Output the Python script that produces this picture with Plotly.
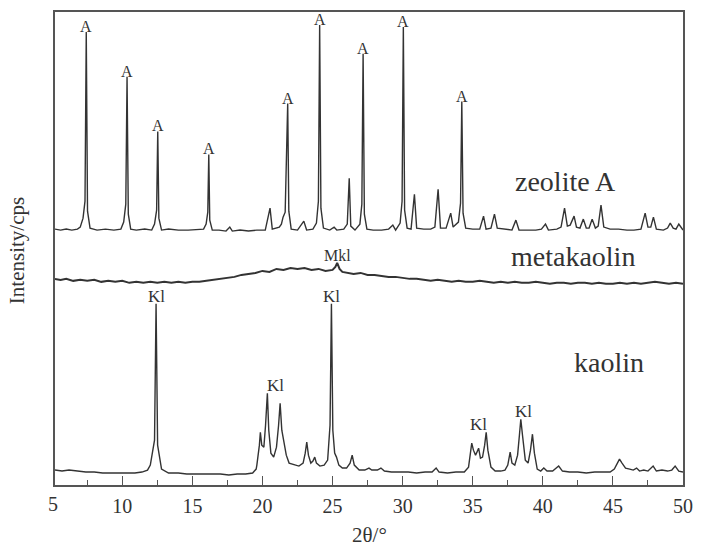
import plotly.graph_objects as go

# --- XRD patterns (2-theta in degrees, intensity in arbitrary counts, traces stacked) ---
zeolite_x = [5.2, 5.6, 6.0, 6.4, 6.8, 7.0,
             7.2, 7.34, 7.43, 7.52, 7.7,
             8.2, 8.8, 9.4, 9.9,
             10.1, 10.25, 10.34, 10.43, 10.6,
             11.0, 11.6, 12.1,
             12.3, 12.45, 12.53, 12.61, 12.8,
             13.3, 14.0, 14.7, 15.4, 15.8,
             15.98, 16.1, 16.17, 16.24, 16.42,
             16.9, 17.4, 17.67, 17.85, 18.4, 19.0, 19.6, 20.2, 20.54, 20.7,
             21.2, 21.35, 21.47, 21.62, 21.80, 21.88, 22.05,
             22.5, 22.95, 23.15, 23.6,
             23.85, 23.99, 24.08, 24.17, 24.35,
             24.8, 25.11, 25.3, 25.8,
             26.05, 26.19, 26.3, 26.6,
             26.95, 27.09, 27.18, 27.27, 27.45,
             27.9, 28.5, 29.0, 29.3, 29.5,
             29.82, 29.96, 30.05, 30.14, 30.32,
             30.6, 30.84, 31.0, 31.5, 32.0, 32.3, 32.53, 32.7,
             33.1, 33.43, 33.6,
             33.98, 34.13, 34.22, 34.31, 34.5,
             35.0, 35.5, 35.77, 35.95, 36.3, 36.55, 36.75, 37.3, 37.8, 38.08, 38.3,
             38.9, 39.5, 39.9, 40.19, 40.4, 41.0, 41.3, 41.55, 41.75, 41.95, 42.23,
             42.4, 42.65, 42.89, 43.1, 43.3, 43.52, 43.75, 43.95, 44.15, 44.35,
             44.8, 45.4, 46.0, 46.5, 47.0, 47.3, 47.5, 47.7, 47.89, 48.1, 48.6,
             48.9, 49.09, 49.3, 49.5, 49.7, 49.9, 50.0]
zeolite_y = [257, 256, 257, 256, 257, 259,
             268, 285, 455, 275, 258,
             256, 257, 256, 257,
             264, 282, 410, 272, 257,
             256, 257, 256,
             262, 276, 355, 268, 256,
             257, 256, 256, 257, 257,
             262, 274, 332, 266, 256,
             256, 255, 259, 255, 256, 255, 256, 256, 278, 257,
             259, 262, 269, 274, 383, 275, 257,
             256, 265, 256, 257,
             263, 285, 462, 278, 258,
             256, 259, 256, 257,
             262, 308, 260, 256,
             262, 282, 433, 272, 257,
             256, 256, 257, 261, 256,
             263, 285, 460, 276, 258,
             257, 292, 258, 257, 257, 259, 297, 258,
             258, 273, 259,
             264, 283, 385, 273, 258,
             257, 257, 270, 257, 258, 272, 258, 257, 256, 266, 256,
             256, 256, 257, 262, 256, 257, 259, 278, 260, 261, 270,
             259, 258, 267, 258, 258, 267, 258, 260, 281, 259,
             257, 257, 256, 256, 257, 273, 259, 259, 269, 257, 256,
             258, 263, 258, 257, 262, 257, 256]

metakaolin_x = [5.2, 5.6, 6.0, 6.5, 7.0, 7.5, 8.0, 8.5, 9.0, 9.5, 10.0, 10.5, 11.0,
                11.5, 12.0, 12.5, 13.0, 13.5, 14.0, 14.5, 15.0, 15.5, 16.0, 16.5,
                17.0, 17.5, 18.0, 18.5, 19.0, 19.5, 20.0, 20.5, 21.0, 21.5, 22.0,
                22.5, 23.0, 23.5, 24.0, 24.5, 25.0, 25.2, 25.33, 25.5, 25.7, 26.0,
                26.5, 27.0, 27.5, 28.0, 28.5, 29.0, 29.5, 30.0, 30.5, 31.0, 31.5,
                32.0, 32.5, 33.0, 33.5, 34.0, 34.5, 35.0, 35.5, 36.0, 36.5, 37.0,
                37.5, 38.0, 38.5, 39.0, 39.5, 40.0, 40.5, 41.0, 41.5, 42.0, 42.5,
                43.0, 43.5, 44.0, 44.5, 45.0, 45.5, 46.0, 46.5, 47.0, 47.5, 48.0,
                48.5, 49.0, 49.5, 50.0]
metakaolin_y = [207, 206, 207, 205, 206, 205, 206, 204, 205, 204, 205, 203, 204,
                203, 204, 203, 204, 203, 204, 203, 204, 204, 205, 206,
                207, 208, 209, 211, 212, 213, 215, 214, 217, 216, 218,
                217, 218, 216, 217, 215, 216, 219, 223, 217, 214, 213,
                212, 213, 211, 211, 210, 209, 209, 208, 207, 207, 206,
                205, 206, 205, 204, 205, 204, 204, 205, 204, 203, 204,
                203, 204, 203, 203, 204, 203, 202, 203, 203, 202, 203,
                203, 202, 203, 202, 202, 203, 202, 203, 202, 203, 204,
                203, 202, 203, 202]

kaolin_x = [5.2, 5.7, 6.2, 6.8, 7.4, 8.0, 8.6, 9.2, 9.8, 10.4, 10.9, 11.4, 11.8,
            12.0, 12.3, 12.41, 12.52, 12.8,
            13.3, 14.0, 14.6, 15.2, 15.8, 16.4, 17.0, 17.6, 18.2, 18.8, 19.3, 19.55,
            19.6, 19.78, 19.85, 19.95, 20.1, 20.22, 20.35, 20.45, 20.6, 20.8, 21.0,
            21.15, 21.26, 21.38, 21.55, 21.7, 21.9, 22.3, 22.6, 22.9, 23.05, 23.16,
            23.28, 23.45, 23.6, 23.73, 23.85, 24.1, 24.4, 24.65, 24.82, 24.92, 25.02,
            25.15, 25.28, 25.45, 25.7, 26.0, 26.25, 26.4, 26.55, 26.9, 27.3, 27.6,
            27.8, 28.2, 28.45, 28.7, 29.2, 29.8, 30.4, 31.0, 31.6, 32.1, 32.39, 32.6,
            33.2, 33.8, 34.4, 34.7, 34.85, 34.93, 35.05, 35.2, 35.3, 35.42, 35.55,
            35.7, 35.85, 35.96, 36.08, 36.3, 36.6, 37.0, 37.3, 37.5, 37.67, 37.8,
            38.0, 38.2, 38.33, 38.43, 38.55, 38.75, 38.95, 39.12, 39.26, 39.4, 39.6,
            39.85, 40.07, 40.3, 40.7, 41.13, 41.4, 41.9, 42.5, 43.1, 43.7, 44.3, 44.8,
            45.1, 45.3, 45.47, 45.65, 45.9, 46.2, 46.45, 46.69, 46.9, 47.2, 47.5,
            47.87, 48.1, 48.5, 48.9, 49.2, 49.44, 49.7, 50.0]
kaolin_y = [15, 14, 15, 14, 13, 13, 12, 12, 12, 12, 12, 13, 15,
            20, 45, 182, 40, 16,
            12, 12, 11, 11, 11, 11, 11, 10, 11, 11, 12, 16,
            20, 40, 53, 40, 38, 60, 92, 55, 32, 28, 38,
            60, 82, 55, 42, 30, 22, 20, 19, 22, 32, 43,
            30, 22, 24, 28, 22, 19, 20, 25, 60, 182, 55,
            32, 28, 20, 17, 17, 22, 30, 20, 15, 15, 17,
            15, 15, 17, 14, 13, 13, 13, 12, 13, 13, 17, 13,
            12, 13, 13, 18, 32, 42, 35, 30, 33, 37, 27,
            28, 40, 53, 35, 18, 14, 14, 15, 20, 33, 22,
            20, 30, 50, 66, 50, 25, 22, 35, 51, 32, 16,
            14, 17, 14, 14, 19, 14, 13, 13, 12, 13, 13, 13,
            16, 22, 26, 22, 17, 16, 15, 17, 14, 15, 14,
            19, 14, 15, 14, 15, 19, 14, 13]

# phase markers: A = zeolite A, Mkl = metakaolin, Kl = kaolinite
zeolite_a_peaks = [7.43, 10.34, 12.53, 16.17, 21.80, 24.08, 27.18, 30.05, 34.22]
metakaolin_peaks = [25.33]
kaolin_peaks = [12.41, 24.92, 20.35, 35.96, 38.43]
kaolin_label_x = [12.41, 24.92, 20.9, 35.42, 38.62]

sample_names = ["zeolite A", "metakaolin", "kaolin"]
sample_label_pos = [(41.62, 305), (42.18, 229), (44.72, 123)]

x_ticks = [5, 10, 15, 20, 25, 30, 35, 40, 45, 50]
X_MIN, X_MAX = 5.2, 50.0

INK = "#333333"
FRAME = "#555555"
SERIF = "Liberation Serif, Times New Roman, serif"


def apex(xs, ys, pos):
    return ys[xs.index(pos)]


fig = go.Figure()
for xs, ys, w in [(zeolite_x, zeolite_y, 1.4),
                  (metakaolin_x, metakaolin_y, 2.0),
                  (kaolin_x, kaolin_y, 1.4)]:
    fig.add_trace(go.Scatter(x=xs, y=ys, mode="lines",
                             line=dict(color=INK, width=w),
                             showlegend=False, hoverinfo="skip"))

annotations = []
for p in zeolite_a_peaks:
    annotations.append(dict(x=p, y=apex(zeolite_x, zeolite_y, p), text="A",
                            yanchor="bottom", yshift=-5, font=dict(size=16)))
for p in metakaolin_peaks:
    annotations.append(dict(x=p, y=apex(metakaolin_x, metakaolin_y, p), text="Mkl",
                            yanchor="bottom", yshift=-3, font=dict(size=16)))
for p, lx in zip(kaolin_peaks, kaolin_label_x):
    annotations.append(dict(x=lx, y=apex(kaolin_x, kaolin_y, p), text="Kl",
                            yanchor="bottom", yshift=-4, font=dict(size=17)))
for name, (lx, ly) in zip(sample_names, sample_label_pos):
    annotations.append(dict(x=lx, y=ly, text=name, yanchor="middle",
                            font=dict(size=28)))

# the first tick value sits just left of the plotted range, so its label is placed by hand
annotations.append(dict(xref="paper", yref="paper", x=0, xshift=-2, y=0, yshift=-19,
                        text=str(x_ticks[0]), xanchor="center", yanchor="middle",
                        font=dict(size=20)))

# axis titles
annotations.append(dict(xref="paper", yref="paper", x=0.5, y=-0.105,
                        text="2θ/°", yanchor="middle", font=dict(size=21)))
annotations.append(dict(xref="paper", yref="paper", x=-0.06, y=0.495,
                        text="Intensity/cps", textangle=-90,
                        xanchor="center", yanchor="middle", font=dict(size=21)))

for a in annotations:
    a.setdefault("showarrow", False)
    a["font"].update(family=SERIF, color=INK)

fig.update_layout(
    width=703, height=548,
    margin=dict(l=55, r=12, t=10, b=63),
    paper_bgcolor="white", plot_bgcolor="white",
    annotations=annotations,
    xaxis=dict(range=[X_MIN, X_MAX], tickvals=x_ticks, ticktext=[str(t) for t in x_ticks],
               ticks="inside", ticklen=9, tickwidth=1.2, tickcolor=FRAME,
               minor=dict(dtick=2.5, tick0=5, ticks="inside", ticklen=5,
                          tickwidth=1.2, tickcolor=FRAME),
               showline=True, linecolor=FRAME, linewidth=1.5, mirror=True,
               showgrid=False, zeroline=False, ticklabelstandoff=2,
               tickfont=dict(family=SERIF, size=20, color=INK)),
    yaxis=dict(range=[0, 475], showticklabels=False, ticks="",
               showline=True, linecolor=FRAME, linewidth=1.5, mirror=True,
               showgrid=False, zeroline=False),
)

fig.write_html("out.html")
